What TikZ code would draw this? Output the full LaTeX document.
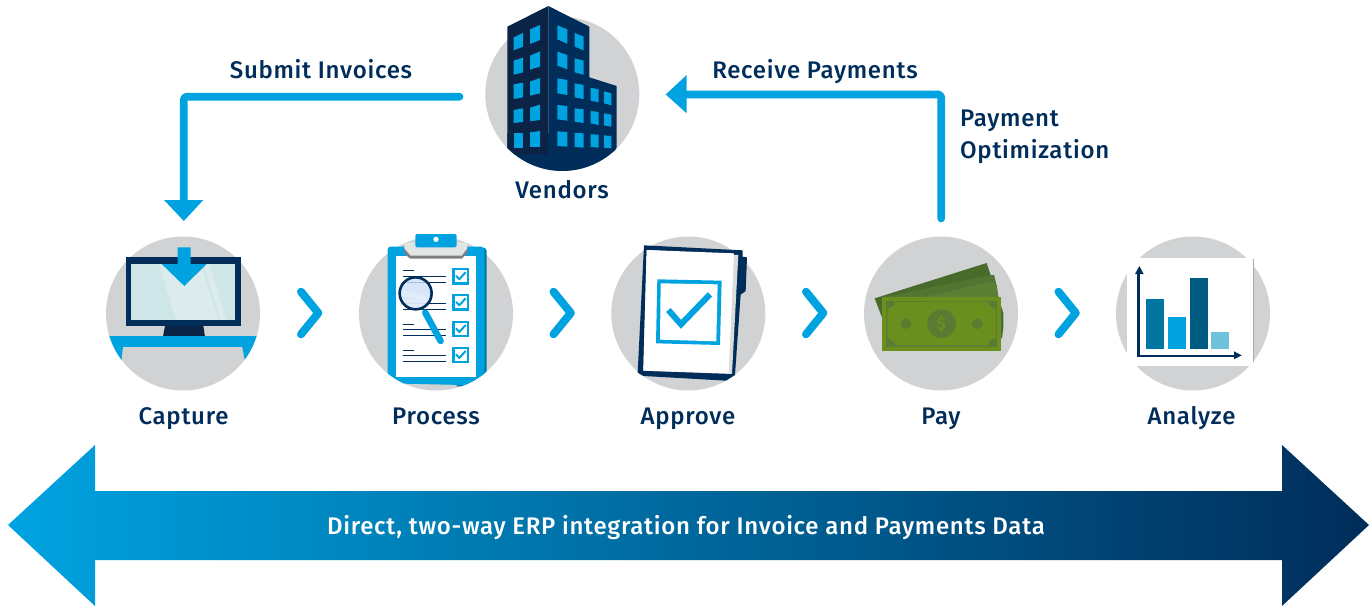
\documentclass[tikz,border=0pt]{standalone}
\usepackage{fontspec}
\setmainfont{Fira Sans Medium}[LetterSpace=3.0]
\definecolor{cyanb}{HTML}{00A3E0}
\definecolor{navy}{HTML}{002D5A}
\definecolor{navyd}{HTML}{0B2345}
\definecolor{greyc}{HTML}{D0D2D3}
\definecolor{scrA}{HTML}{CEE6E7}
\definecolor{scrB}{HTML}{DCECEC}
\definecolor{clipD}{HTML}{007AA6}
\definecolor{clipG}{HTML}{7F8083}
\definecolor{clipL}{HTML}{E3E4E4}
\definecolor{lensA}{HTML}{CFE0FA}
\definecolor{lensB}{HTML}{E6EFFC}
\definecolor{pageS}{HTML}{DADBDB}
\definecolor{mBack}{HTML}{486A2A}
\definecolor{mBackB}{HTML}{527531}
\definecolor{mMid}{HTML}{5C8033}
\definecolor{mFront}{HTML}{6A8F1E}
\definecolor{mDark}{HTML}{5B7B33}
\definecolor{barA}{HTML}{00759F}
\definecolor{barC}{HTML}{005B80}
\definecolor{barD}{HTML}{6FC2DC}
\definecolor{edgeG}{HTML}{AAAAAA}
\tikzset{
  disc/.style={circle,fill=greyc,draw=none,minimum size=154pt,inner sep=0pt},
  lab/.style={text=navy,font=\fontsize{24}{32}\selectfont,inner sep=0pt,align=left,anchor=base},
  flow/.style={draw=cyanb,line width=7.7pt,line join=round,rounded corners=3pt,line cap=round},
  chev/.style={draw=cyanb,line width=8pt,line cap=round,line join=round},
  win/.style={fill=cyanb,draw=none},
  tick/.style={draw=navy,line width=0.8pt},
  icon/.style={x=0.3333pt,y=-0.3333pt}
}
\newcommand{\wn}[6]{\fill[win] (#1,#2)--(#3,#4)--(#3,#6)--(#1,#5)--cycle;}
\newcommand{\cbox}[1]{%
  \fill[cyanb] (1087,#1) rectangle (1137,#1+50);
  \fill[white] (1094,#1+7) rectangle (1130,#1+43);
  \draw[cyanb,line width=2pt,line cap=round,line join=round] (1099,#1+24)--(1108,#1+34)--(1126,#1+14);}
% clip: everything above the centre line of a disc, and the disc's lower half below it
\newcommand{\discclip}[2]{\clip (#1-100,#2-100)--(#1+100,#2-100)--(#1+77,#2)
  --plot[domain=0:180,samples=72] ({#1+77*cos(\x)},{#2+77*sin(\x)})--(#1-100,#2)--cycle;}
\begin{document}
\begin{tikzpicture}[x=1pt,y=-1pt]
\useasboundingbox (0,0) rectangle (1370,606);
% discs
\node[disc] (vendors) at (562.3,94) {};
\node[disc] (capture) at (183,313.5) {};
\node[disc] (process) at (436,313.5) {};
\node[disc] (approve) at (688.3,313.5) {};
\node[disc] (pay) at (941,313.5) {};
\node[disc] (analyze) at (1193,313.5) {};
% building
\begin{scope}
\discclip{562.3}{94}
\begin{scope}[shift={(470,0)},icon]
\fill[navy] (235,18)--(358,80)--(358,232)--(440,258)--(440,530)--(112,530)--(112,400)--(235,400)--cycle;
\fill[navyd] (112,80)--(235,18)--(235,463)--(112,463)--cycle;
\wn{131}{112}{159}{99}{151}{140}\wn{180}{88}{210}{75}{132}{120}
\wn{131}{182}{159}{173}{224}{217}\wn{180}{167}{210}{154}{209}{200}
\wn{131}{253}{159}{248}{297}{292}\wn{180}{245}{210}{234}{287}{280}
\wn{131}{330}{159}{325}{369}{366}\wn{180}{323}{210}{314}{364}{360}
\wn{131}{400}{159}{400}{443}{443}\wn{180}{397}{210}{393}{441}{441}
\wn{262}{76}{292}{88}{118}{131}\wn{262}{155}{292}{165}{197}{208}
\wn{262}{235}{292}{240}{280}{285}\wn{262}{315}{292}{318}{358}{362}
\wn{262}{394}{292}{396}{438}{440}
\wn{314}{99}{341}{110}{140}{151}\wn{314}{175}{341}{182}{217}{224}
\wn{314}{250}{341}{255}{292}{297}\wn{314}{325}{341}{328}{365}{369}
\wn{314}{399}{341}{400}{441}{443}
\wn{362}{263}{386}{268}{302}{307}\wn{362}{333}{386}{336}{370}{375}
\wn{362}{403}{386}{404}{441}{443}
\wn{402}{274}{424}{280}{310}{316}\wn{402}{340}{424}{344}{376}{380}
\wn{402}{406}{424}{408}{443}{445}
\end{scope}
\end{scope}
% capture icon
\begin{scope}
\clip (183,313.5) circle (77);
\begin{scope}[shift={(90,220)},icon]
\fill[navyd] (225,318)--(340,318)--(345,350)--(219,350)--cycle;
\fill[cyanb] (40,348) rectangle (520,381);
\fill[cyanb] (60,381)--(99,381)--(92,440)--(60,440)--cycle;
\fill[cyanb] (457,381)--(500,381)--(500,440)--(468,440)--cycle;
\end{scope}
\end{scope}
\begin{scope}[shift={(90,220)},icon]
\fill[navy] (107,111) rectangle (452,318);
\fill[scrA] (122,132) rectangle (436,300);
\fill[scrB] (207,132)--(332,132)--(385,300)--(257,300)--cycle;
\fill[scrB] (340,132)--(358,132)--(410,300)--(392,300)--cycle;
\fill[cyanb] (263,82)--(302,82)--(302,132)--(350,132)--(283,198)--(215,132)--(263,132)--cycle;
\end{scope}
% clipboard
\begin{scope}
\discclip{436}{313.5}
\begin{scope}[shift={(90,220)},icon]
\fill[clipD] (1100,84)--(1185,84)--(1190,92)--(1190,499)--(1100,499)--cycle;
\fill[cyanb,rounded corners=3pt] (893,80)--(1183,80)--(1183,490)--(1120,495)--(893,490)--cycle;
\fill[white] (917,108) rectangle (1158,470);
\fill[clipG] (943,76)--(1132,76)--(1132,100)--(1115,116)--(960,116)--(943,100)--cycle;
\fill[clipL] (943,68)--(1132,68)--(1132,85)--(1115,107)--(962,107)--(943,85)--cycle;
\fill[cyanb,rounded corners=2pt] (976,42) rectangle (1100,82);
\fill[white] (1038,58) circle (8);
\foreach \y in {151,234,313,391} \draw[tick] (940,\y)--(972,\y);
\foreach \y in {169,186,250,268,328,346,406,424} \draw[tick] (940,\y)--(1068,\y);
\cbox{144}\cbox{222}\cbox{302}\cbox{380}
\draw[cyanb,line width=6.5pt,line cap=round] (1006,278)--(1052,363);
\fill[lensA,fill opacity=0.8] (977,220) circle (48);
\begin{scope}
\clip (977,220) circle (48);
\fill[lensB,fill opacity=0.7] (925,205)--(1030,235)--(1030,280)--(925,250)--cycle;
\end{scope}
\draw[navy,line width=2.6pt] (977,220) circle (48);
\end{scope}
\end{scope}
% approve icon
\begin{scope}[shift={(600,220)},icon]
\fill[navy] (132,76)--(428,91)--(428,110)--(441,112)--(437,213)--(422,224)--(405,465)--(378,482)--(130,468)--(113,458)--cycle;
\fill[pageS] (140,90)--(415,105)--(396,462)--(130,452)--cycle;
\fill[white] (140,90)--(402,100)--(386,460)--(130,452)--cycle;
\fill[cyanb] (172,178)--(365,182)--(360,375)--(168,370)--cycle;
\fill[white] (182,190)--(353,193)--(349,364)--(180,359)--cycle;
\draw[cyanb,line width=6pt] (205,270)--(243,313)--(330,223);
\end{scope}
% money (back notes in a finer crop's coordinates)
\begin{scope}[shift={(870,255)},icon]
\fill[mBack] (14,130)--(350,24)--(362,60)--(372,60)--(380,92)--(385,125)--(400,175)--(400,218)--(396,250)--(60,250)--cycle;
\fill[mBackB] (36,127)--(362,60)--(372,60)--(378,92)--(330,100)--(160,127)--cycle;
\fill[mMid] (160,127)--(368,80)--(380,92)--(385,127)--cycle;
\end{scope}
\begin{scope}[shift={(600,220)},icon]
\fill[mFront] (846,232) rectangle (1203,392);
\fill[mDark] (858,243) rectangle (1192,381);
\fill[mFront] (884,246)--(1166,246)--(1166,255)--(1188,268)--(1188,352)--(1166,366)--(1166,376)--(884,376)--(884,366)--(862,352)--(862,268)--(884,255)--cycle;
\fill[mDark] (1025,311) circle (43);
\fill[mDark] (918,311) circle (16);
\fill[mDark] (1132,311) circle (16);
\node[text=mFront,font=\fontsize{17}{17}\selectfont,inner sep=0pt] (dollar) at (1024,311) {\$};
\end{scope}
% analyze icon
\begin{scope}[shift={(1100,240)},icon]
\fill[white] (80,55) rectangle (460,377);
\draw[edgeG,line width=0.8pt] (460,58)--(460,365);
\fill[barA] (138,177) rectangle (192,327);
\fill[cyanb] (204,231) rectangle (258,327);
\fill[barC] (270,114) rectangle (324,327);
\fill[barD] (333,276) rectangle (387,327);
\draw[navy,line width=2.6pt] (116,100)--(116,347.5)--(405,347.5);
\fill[navy] (105,102)--(118,78)--(131,102)--cycle;
\fill[navy] (402,334)--(425,346)--(402,358)--cycle;
\end{scope}
% connectors
\coordinate (subS) at (459.5,96.7);
\coordinate (subB) at (183.8,96.7);
\coordinate (subE) at (183.8,202);
\coordinate (recS) at (941.2,218.5);
\coordinate (recB) at (941.2,94.5);
\coordinate (recE) at (685,94.5);
\draw[flow] (subS)--(subB)--(subE);
\fill[cyanb] (164,200)--(203.3,200)--(183.8,221)--cycle;
\draw[flow] (recS)--(recB)--(recE);
\fill[cyanb] (686.7,75)--(686.7,113.3)--(665.7,94.5)--cycle;
% chevrons
\foreach \x/\n in {301/a,553.5/b,806/c,1058.5/d}
  \draw[chev] (\x,291.7)--(\x+17.3,313)--(\x,334.3);
% big arrow
\shade[left color=cyanb,right color=navy]
 (8,525)--(95,445)--(95,491)--(1282,491)--(1282,445)--(1369,525)--(1282,606)--(1282,560)--(95,560)--(95,606)--cycle;
% labels
\node[lab] (tVendors) at (562,198) {Vendors};
\node[lab] (tCapture) at (183.5,424) {Capture};
\node[lab] (tProcess) at (436,424) {Process};
\node[lab] (tApprove) at (688,424) {Approve};
\node[lab] (tPay) at (941,424) {Pay};
\node[lab] (tAnalyze) at (1191.5,424) {Analyze};
\node[lab] (tSubmit) at (321,78.5) {Submit Invoices};
\node[lab] (tReceive) at (815,78.5) {Receive Payments};
\node[lab,anchor=base west] (tOpt) at (960,158) {Payment\\Optimization};
\node[lab,text=white] (tBar) at (686,534) {Direct, two-way ERP integration for Invoice and Payments Data};
\end{tikzpicture}
\end{document}
